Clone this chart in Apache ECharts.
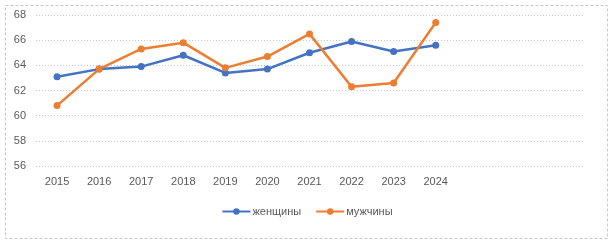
<!DOCTYPE html>
<html>
<head>
<meta charset="utf-8">
<script src="https://cdn.jsdelivr.net/npm/echarts@6/dist/echarts.min.js"></script>
<style>
  html, body { margin: 0; padding: 0; background: #fff; }
  #main { width: 614px; height: 245px; }
</style>
</head>
<body>
<div id="main"></div>
<script>
var chart = echarts.init(document.getElementById('main'));

// годы (последние три категории пустые, как в исходной диаграмме)
var years = ['2015', '2016', '2017', '2018', '2019', '2020', '2021', '2022', '2023', '2024', '', '', ''];
var women = [63.1, 63.7, 63.9, 64.8, 63.4, 63.7, 65.0, 65.9, 65.1, 65.6];
var men = [60.8, 63.7, 65.3, 65.8, 63.8, 64.7, 66.5, 62.3, 62.6, 67.4];

var font = 'Liberation Sans';

option = {
  animation: false,
  grid: {
    left: 36,
    right: 31,
    top: 15,
    bottom: 79
  },
  graphic: [{
    type: 'rect',
    shape: { x: 5.5, y: 5.5, width: 602, height: 233 },
    style: { fill: 'none', stroke: '#c8c8c8', lineWidth: 1, lineDash: [3, 2] },
    silent: true
  }],
  legend: {
    top: 201,
    left: 'center',
    itemWidth: 28,
    itemHeight: 8,
    itemGap: 14,
    textStyle: { color: '#595959', fontSize: 11, fontFamily: font, padding: [0, 0, 0, -3] },
    data: ['женщины', 'мужчины']
  },
  xAxis: {
    type: 'category',
    data: years,
    boundaryGap: true,
    axisLine: { show: false },
    axisTick: { show: false },
    axisLabel: { color: '#595959', fontSize: 11, fontFamily: font, margin: 10 }
  },
  yAxis: {
    type: 'value',
    min: 56,
    max: 68,
    interval: 2,
    axisLine: { show: false },
    axisTick: { show: false },
    axisLabel: { color: '#595959', fontSize: 11, fontFamily: font, margin: 10 },
    splitLine: { lineStyle: { color: '#c8c8c8', type: [1, 2], width: 1 } }
  },
  series: [
    {
      name: 'женщины',
      type: 'line',
      data: women,
      symbol: 'circle',
      symbolSize: 7,
      itemStyle: { color: '#4472C4' },
      lineStyle: { color: '#4472C4', width: 2.5 }
    },
    {
      name: 'мужчины',
      type: 'line',
      data: men,
      symbol: 'circle',
      symbolSize: 7,
      itemStyle: { color: '#ED7D31' },
      lineStyle: { color: '#ED7D31', width: 2.5 }
    }
  ]
};

option && chart.setOption(option);
</script>
</body>
</html>
